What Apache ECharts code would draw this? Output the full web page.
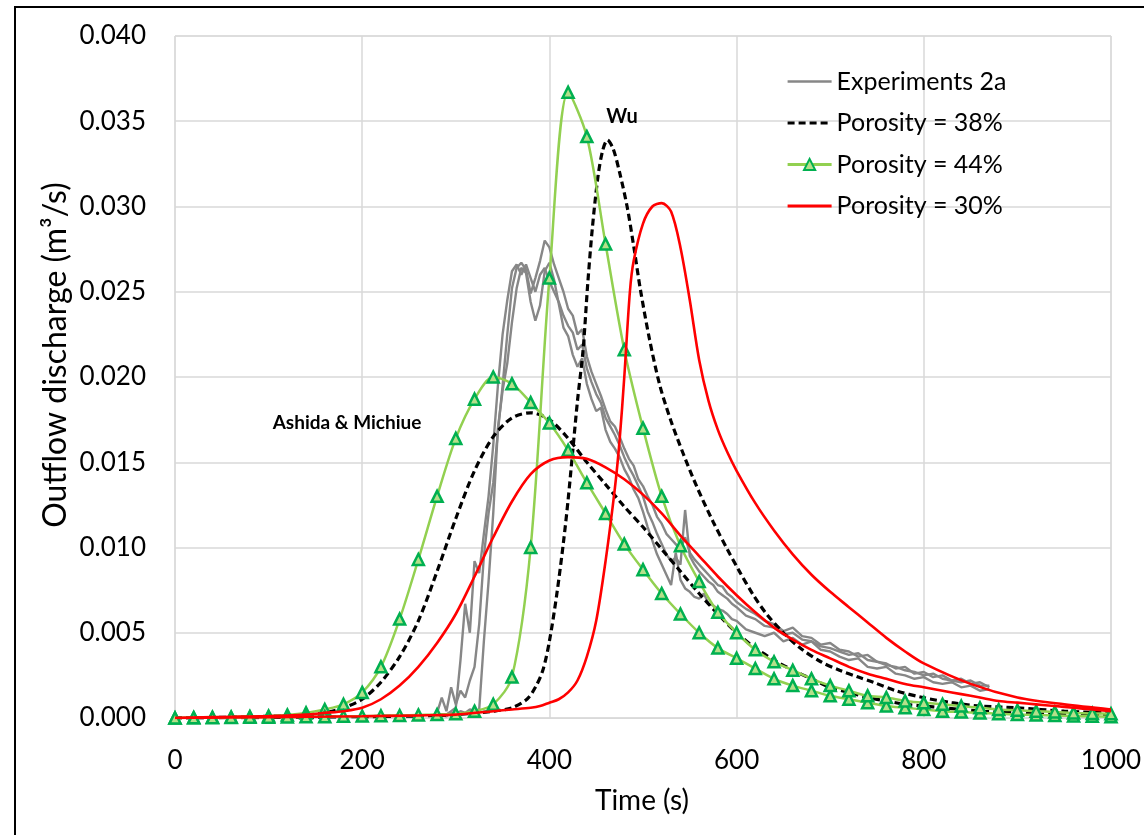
<!DOCTYPE html>
<html>
<head>
<meta charset="utf-8">
<script src="https://cdn.jsdelivr.net/npm/echarts@6/dist/echarts.min.js"></script>
<style>
html,body{margin:0;padding:0;background:#fff;overflow:hidden;}
#frame{position:absolute;left:14px;top:6px;width:1300px;height:1000px;border-left:2px solid #000;border-top:2px solid #000;box-sizing:border-box;}
#c{position:absolute;left:0;top:0;width:1144px;height:835px;}
</style>
</head>
<body>
<div id="frame"></div>
<div id="c"></div>
<script>
// ---------- tick labels ----------
const xTicks = [0, 200, 400, 600, 800, 1000];
const yTicks = [0, 0.005, 0.010, 0.015, 0.020, 0.025, 0.030, 0.035, 0.040];

// ---------- experiments 2a (three runs) ----------
const tExp = [280,285,290,295,300,305,310,315,320,325,330,335,340,345,350,355,360,365,370,375,
  380,385,390,395,400,405,410,415,420,425,430,435,440,445,450,455,460,465,470,475,
  480,485,490,495,500,505,510,515,520,525,530,535,540,545,550,555,560,565,570,575,
  580,585,590,595,600,610,620,630,640,650,660,670,680,690,700,710,720,730,740,750,
  760,770,780,790,800,810,820,830,840,850,860,870];
const expA = [0.0003,0.0012,0.0004,0.0018,0.0008,0.0016,0.0012,0.0022,0.0030,0.0055,0.0095,0.0120,0.0138,0.0168,0.0195,0.0225,0.0252,0.0264,0.0267,0.0263,
  0.0249,0.0258,0.0268,0.0280,0.0276,0.0266,0.0258,0.0250,0.0240,0.0236,0.0225,0.0228,0.0212,0.0203,0.0196,0.0189,0.0181,0.0174,0.0171,0.0165,
  0.0158,0.0152,0.0148,0.0140,0.0136,0.0130,0.0125,0.0118,0.0114,0.0108,0.0105,0.0102,0.0099,0.0106,0.0097,0.0093,0.0090,0.0087,0.0084,0.0081,
  0.0078,0.0077,0.0073,0.0071,0.0068,0.0064,0.0061,0.0057,0.0055,0.0051,0.0053,0.0048,0.0047,0.0043,0.0044,0.0040,0.0039,0.0036,0.0037,0.0033,
  0.0032,0.0029,0.0030,0.0026,0.0027,0.0024,0.0025,0.0022,0.0023,0.0020,0.0021,0.0018];
const expB = [0.0001,0.0002,0.0001,0.0003,0.0002,0.0004,0.0003,0.0005,0.0004,0.0005,0.0045,0.0080,0.0120,0.0170,0.0192,0.0208,0.0232,0.0252,0.0264,0.0261,
  0.0244,0.0233,0.0242,0.0262,0.0267,0.0257,0.0243,0.0229,0.0224,0.0213,0.0206,0.0211,0.0196,0.0187,0.0180,0.0182,0.0169,0.0162,0.0158,0.0153,
  0.0146,0.0141,0.0134,0.0129,0.0121,0.0112,0.0104,0.0096,0.0090,0.0084,0.0078,0.0097,0.0081,0.0076,0.0074,0.0071,0.0070,0.0073,0.0067,0.0066,
  0.0064,0.0063,0.0061,0.0058,0.0057,0.0052,0.0050,0.0048,0.0050,0.0045,0.0047,0.0043,0.0045,0.0040,0.0039,0.0036,0.0034,0.0035,0.0030,0.0029,
  0.0030,0.0026,0.0025,0.0023,0.0024,0.0021,0.0020,0.0021,0.0018,0.0019,0.0016,0.0017];
const expC = [0.0001,0.0002,0.0002,0.0004,0.0006,0.0034,0.0067,0.0050,0.0092,0.0085,0.0108,0.0130,0.0160,0.0195,0.0225,0.0245,0.0262,0.0266,0.0260,0.0266,
  0.0258,0.0250,0.0260,0.0264,0.0256,0.0250,0.0244,0.0236,0.0230,0.0226,0.0216,0.0219,0.0205,0.0197,0.0190,0.0185,0.0176,0.0171,0.0166,0.0160,
  0.0153,0.0147,0.0142,0.0136,0.0130,0.0121,0.0115,0.0108,0.0102,0.0096,0.0092,0.0094,0.0090,0.0122,0.0095,0.0090,0.0086,0.0083,0.0080,0.0078,
  0.0074,0.0072,0.0070,0.0067,0.0065,0.0060,0.0058,0.0054,0.0053,0.0049,0.0050,0.0046,0.0045,0.0042,0.0041,0.0039,0.0037,0.0038,0.0034,0.0033,
  0.0031,0.0030,0.0028,0.0027,0.0025,0.0026,0.0023,0.0022,0.0021,0.0022,0.0019,0.0019];

// ---------- Porosity = 44% (green, markers every 20 s) ----------
const t20 = [0,20,40,60,80,100,120,140,160,180,200,220,240,260,280,300,320,340,360,380,
  400,420,440,460,480,500,520,540,560,580,600,620,640,660,680,700,720,740,760,780,
  800,820,840,860,880,900,920,940,960,980,1000];
const g44AM = [0,0.00002,0.00004,0.00006,0.00009,0.00012,0.00018,0.0003,0.0005,0.0008,
  0.0015,0.0030,0.0058,0.0093,0.0130,0.0164,0.0187,0.0200,0.0196,0.0185,
  0.0173,0.0157,0.0138,0.0120,0.0102,0.0087,0.0073,0.0061,0.0050,0.0041,
  0.0035,0.0029,0.0023,0.0019,0.0016,0.0013,0.0011,0.0009,0.0007,0.0006,
  0.0005,0.0004,0.00035,0.0003,0.00025,0.0002,0.00018,0.00015,0.00012,0.0001,0.00008];
const g44Wu = [0,0.00001,0.00002,0.00003,0.00004,0.00005,0.00006,0.00007,0.00008,0.0001,
  0.00011,0.00013,0.00015,0.00018,0.0002,0.00025,0.0004,0.0008,0.0024,0.0100,
  0.0258,0.0367,0.0341,0.0278,0.0216,0.0170,0.0130,0.0101,0.0080,0.0062,
  0.0050,0.0040,0.0033,0.0028,0.0023,0.0019,0.0016,0.0013,0.0012,0.0010,
  0.0009,0.0008,0.0007,0.0006,0.0005,0.00045,0.0004,0.00035,0.0003,0.00027,0.00025];

// ---------- Porosity = 38% (black dashed) ----------
const b38AM = [0,0.00002,0.00003,0.00005,0.00007,0.0001,0.00014,0.0002,0.0003,0.0006,
  0.0011,0.0021,0.0036,0.0057,0.0086,0.0117,0.0145,0.0165,0.0176,0.0179,
  0.0175,0.0164,0.0150,0.0137,0.0124,0.0112,0.0099,0.0086,0.0073,0.0061,
  0.0050,0.0041,0.0034,0.0028,0.0023,0.0018,0.0015,0.0012,0.0010,0.0008,
  0.0007,0.0006,0.0005,0.0004,0.00035,0.0003,0.00025,0.0002,0.00018,0.00015,0.00013];
const tB38Wu = [0,100,200,260,300,340,360,376,385,393,400,408,415,420,425,430,436,441,446,452,
  457,462,468,475,483,490,497,507,518,530,543,558,575,590,603,618,632,650,668,690,
  710,730,746,770,799,830,860,900,950,1000];
const b38Wu = [0,0.00003,0.00008,0.00012,0.0002,0.0004,0.0006,0.0011,0.0018,0.0028,0.0045,0.0073,0.0103,0.0128,0.0157,0.0186,0.0216,0.0255,0.0288,0.0318,
  0.0333,0.0339,0.0334,0.0320,0.0300,0.0277,0.0252,0.0222,0.0195,0.0174,0.0155,0.0135,0.0115,0.0099,0.0086,0.0072,0.0061,0.0050,0.0041,0.0033,
  0.0028,0.0024,0.0021,0.0016,0.0012,0.0009,0.0007,0.0006,0.0004,0.0003];

// ---------- Porosity = 30% (red) ----------
const r30AM = [0,0.00003,0.00005,0.00007,0.00009,0.00011,0.00014,0.0002,0.0003,0.0004,
  0.0006,0.0011,0.0019,0.0030,0.0044,0.0061,0.0083,0.0106,0.0127,0.0143,
  0.0151,0.0153,0.0152,0.0147,0.0140,0.0131,0.0120,0.0107,0.0095,0.0083,
  0.0072,0.0062,0.0053,0.0046,0.0040,0.0035,0.0030,0.0026,0.0023,0.0020,
  0.0018,0.0016,0.0014,0.0012,0.0010,0.0009,0.0008,0.0007,0.0006,0.0005,0.0004];
const tR30Wu = [0,100,200,260,300,340,360,380,390,400,410,420,430,440,450,460,470,475,480,486,
  490,500,510,520,530,540,550,560,570,580,590,600,620,640,660,680,700,720,740,760,
  780,800,850,900,950,1000];
const r30Wu = [0,0.00005,0.0001,0.00015,0.0002,0.0004,0.0005,0.0006,0.0007,0.0009,0.0011,0.0015,0.0022,0.0036,0.0057,0.0092,0.0135,0.0163,0.0200,0.0250,
  0.0268,0.0290,0.0300,0.0302,0.0297,0.0276,0.0245,0.0210,0.0186,0.0169,0.0156,0.0145,0.0126,0.0110,0.0096,0.0084,0.0074,0.0065,0.0056,0.0047,
  0.0039,0.0032,0.0020,0.0012,0.0008,0.0005];

const FONT = 'Lato';
function pairs(t, v) { return t.map((x, i) => [x, v[i]]); }

const expStyle = { color: '#878787', width: 2.4 };
const blackStyle = { color: '#000000', width: 3.2, type: [7, 4] };
const greenLine = { color: '#92d050', width: 2.5 };
const greenItem = { color: '#b5e08a', borderColor: '#00b050', borderWidth: 2.5 };
const redStyle = { color: '#ff0000', width: 2.6 };

function expSeries(v) {
  return { name: 'Experiments 2a', type: 'line', data: pairs(tExp, v), symbol: 'none',
    lineStyle: expStyle, itemStyle: { color: '#878787' }, silent: true, z: 2 };
}
function blackSeries(t, v) {
  return { name: 'Porosity = 38%', type: 'line', data: pairs(t, v), symbol: 'none', smooth: 0.3,
    lineStyle: blackStyle, itemStyle: { color: '#000' }, silent: true, z: 3 };
}
function greenSeries(v) {
  return { name: 'Porosity = 44%', type: 'line', data: pairs(t20, v), symbol: 'triangle', symbolSize: 11,
    showSymbol: true, smooth: 0.3, lineStyle: greenLine, itemStyle: greenItem, silent: true, z: 4 };
}
function redSeries(t, v) {
  return { name: 'Porosity = 30%', type: 'line', data: pairs(t, v), symbol: 'none', smooth: 0.3,
    lineStyle: redStyle, itemStyle: { color: '#ff0000' }, silent: true, z: 5 };
}
const noSymbol = { color: 'rgba(0,0,0,0)', borderWidth: 0, borderColor: 'rgba(0,0,0,0)' };

const chart = echarts.init(document.getElementById('c'), null, { renderer: 'canvas' });
chart.setOption({
  animation: false,
  backgroundColor: 'transparent',
  grid: { left: 175, right: 33, top: 36, bottom: 117, show: true, borderColor: '#d9d9d9', borderWidth: 1,
    containLabel: false, outerBoundsMode: 'none' },
  legend: {
    data: [
      { name: 'Experiments 2a', itemStyle: noSymbol, lineStyle: { width: 2.5 } },
      { name: 'Porosity = 38%', itemStyle: noSymbol, lineStyle: { width: 3.2 } },
      { name: 'Porosity = 44%', lineStyle: { width: 3 } },
      { name: 'Porosity = 30%', itemStyle: noSymbol, lineStyle: { width: 3 } }
    ],
    orient: 'vertical', left: 786, top: 69, padding: 0, itemWidth: 44, itemHeight: 14, itemGap: 16.5,
    textStyle: { fontFamily: FONT, fontSize: 25, color: '#000', lineHeight: 25 },
    selectedMode: false
  },
  xAxis: {
    type: 'value', min: xTicks[0], max: xTicks[xTicks.length - 1], interval: 200,
    axisLine: { show: true, lineStyle: { color: '#d9d9d9', width: 1 } },
    axisTick: { show: false },
    axisLabel: { fontFamily: FONT, fontSize: 26, color: '#000', margin: 30, formatter: v => String(v) },
    splitLine: { show: true, lineStyle: { color: '#d9d9d9', width: 1.5 } }
  },
  yAxis: {
    type: 'value', min: yTicks[0], max: yTicks[yTicks.length - 1], interval: 0.005,
    axisLine: { show: false }, axisTick: { show: false },
    axisLabel: { fontFamily: FONT, fontSize: 26, color: '#000', margin: 29,
      formatter: v => v.toFixed(3) },
    splitLine: { show: true, lineStyle: { color: '#d9d9d9', width: 1.5 } }
  },
  graphic: [
    { type: 'text', x: 56, y: 355, rotation: Math.PI / 2,
      style: { text: 'Outflow discharge (m³/s)', font: '32px ' + FONT, fill: '#000',
        align: 'center', verticalAlign: 'middle', textAlign: 'center', textVerticalAlign: 'middle' } },
    { type: 'text', x: 642, y: 801,
      style: { text: 'Time (s)', font: '28px ' + FONT, fill: '#000',
        align: 'center', verticalAlign: 'middle', textAlign: 'center', textVerticalAlign: 'middle' } },
    { type: 'text', x: 622, y: 117, z: 100,
      style: { text: 'Wu', font: 'bold 20px ' + FONT, fill: '#000',
        align: 'center', verticalAlign: 'middle', textAlign: 'center', textVerticalAlign: 'middle' } },
    { type: 'text', x: 347, y: 423, z: 100,
      style: { text: 'Ashida & Michiue', font: 'bold 19px ' + FONT, fill: '#000',
        align: 'center', verticalAlign: 'middle', textAlign: 'center', textVerticalAlign: 'middle' } }
  ],
  series: [
    expSeries(expA), expSeries(expB), expSeries(expC),
    blackSeries(t20, b38AM), blackSeries(tB38Wu, b38Wu),
    greenSeries(g44AM), greenSeries(g44Wu),
    redSeries(t20, r30AM), redSeries(tR30Wu, r30Wu)
  ]
});
</script>
</body>
</html>
